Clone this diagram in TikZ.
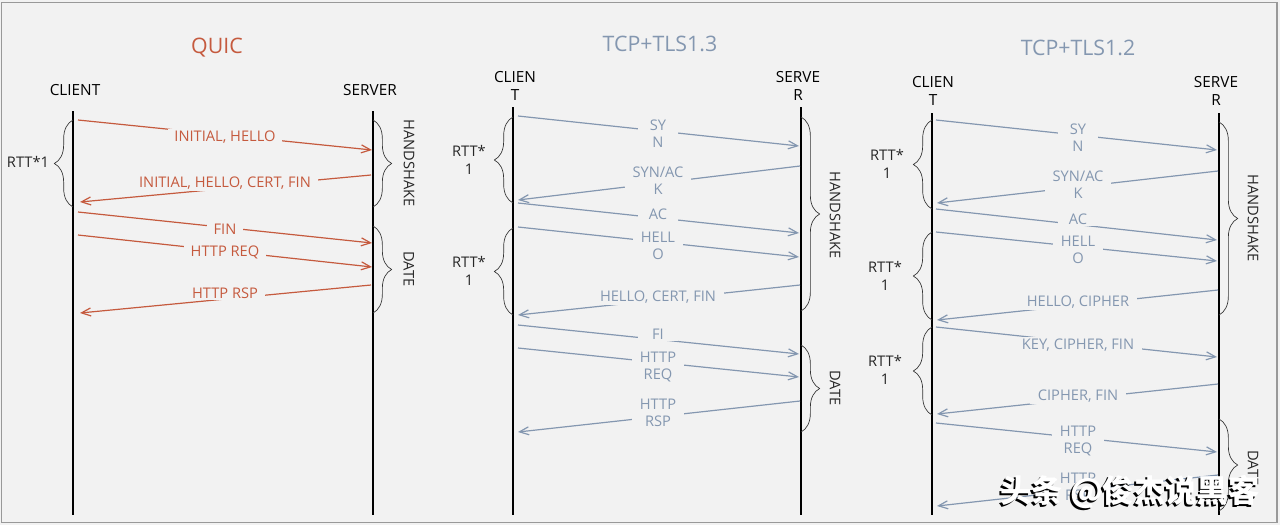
\documentclass[tikz,border=0pt]{standalone}
\usepackage{fontspec}
\setmainfont{Open Sans}
\newfontfamily\cjk{Noto Sans CJK SC}
\usetikzlibrary{arrows.meta, decorations.pathreplacing}
\definecolor{quicred}{HTML}{C55A3E}
\definecolor{tlsblue}{HTML}{8497B0}
\definecolor{paper}{HTML}{F2F2F2}

\begin{document}
\begin{tikzpicture}[x=0.75pt, y=-0.75pt,
	headtxt/.style={font=\fontsize{16}{18}\selectfont},
	actor/.style={align=center, font=\fontsize{11.5}{14}\selectfont},
	lifeline/.style={line width=1.1pt},
	qmsg/.style={quicred, line width=0.9pt, -{Straight Barb[length=7pt, width=6pt]}},
	tmsg/.style={tlsblue, line width=0.9pt, -{Straight Barb[length=7pt, width=6pt]}},
	qlab/.style={quicred, fill=paper, inner xsep=5pt, inner ysep=1pt, font=\fontsize{11}{12.8}\selectfont},
	tlab/.style={tlsblue, fill=paper, align=center, inner xsep=6pt, inner ysep=1pt, minimum width=30pt, font=\fontsize{11}{12.8}\selectfont},
	curly/.style={decorate, decoration={brace, amplitude=14pt}, line width=0.5pt, black!80},
	rtt/.style={align=center, black!85, font=\fontsize{11}{13.5}\selectfont},
	phase/.style={rotate=-90, black!85, font=\fontsize{11}{13}\selectfont},
	wmtext/.style={font=\cjk\bfseries\fontsize{23.5}{26}\selectfont},
]
	\useasboundingbox (0,0) rectangle (1280,525);
	\fill[paper] (0,0) rectangle (1280,525);
	\draw[black!40, line width=1pt] (1.5,2.5) rectangle (1277,522.5);

	% QUIC
	\node (quic) at (217,48) [headtxt, quicred] {QUIC};
	\node (qcl) at (75,90) [actor] {CLIENT};
	\node (qsv) at (370,90) [actor] {SERVER};
	\coordinate (qct) at (73,111);
	\coordinate (qcb) at (73,515);
	\coordinate (qst) at (373,111);
	\coordinate (qsb) at (373,515);
	\draw[lifeline] (qct) -- (qcb);
	\draw[lifeline] (qst) -- (qsb);

	\coordinate (q1s) at (78,120);  \coordinate (q1e) at (372,150);
	\coordinate (q2s) at (371,175); \coordinate (q2e) at (80,202);
	\coordinate (q3s) at (78,212);  \coordinate (q3e) at (372,243);
	\coordinate (q4s) at (78,235);  \coordinate (q4e) at (372,267);
	\coordinate (q5s) at (371,285); \coordinate (q5e) at (80,313);
	\draw[qmsg] (q1s) -- (q1e);
	\draw[qmsg] (q2s) -- (q2e);
	\draw[qmsg] (q3s) -- (q3e);
	\draw[qmsg] (q4s) -- (q4e);
	\draw[qmsg] (q5s) -- (q5e);
	\node (ql1) at (225,137) [qlab] {INITIAL, HELLO};
	\node (ql2) at (225,183) [qlab] {INITIAL, HELLO, CERT, FIN};
	\node (ql3) at (225,229) [qlab] {FIN};
	\node (ql4) at (225,252) [qlab] {HTTP REQ};
	\node (ql5) at (225,293) [qlab] {HTTP RSP};

	\coordinate (qb1a) at (73,207); \coordinate (qb1b) at (73,120);
	\draw[curly] (qb1a) -- (qb1b);
	\node (qrtt) at (28,162) [rtt] {RTT*1};
	\coordinate (qb2a) at (373,120); \coordinate (qb2b) at (373,207);
	\coordinate (qb3a) at (373,226); \coordinate (qb3b) at (373,313);
	\draw[curly] (qb2a) -- (qb2b);
	\draw[curly] (qb3a) -- (qb3b);
	\node (qhs) at (409,163) [phase] {HANDSHAKE};
	\node (qdt) at (409,269) [phase] {DATE};

	% TCP+TLS1.3
	\node (tls13) at (660,44) [headtxt, tlsblue] {TCP+TLS1.3};
	\node (tcl) at (515,86) [actor] {CLIEN\\T};
	\node (tsv) at (798,86) [actor] {SERVE\\R};
	\coordinate (tct) at (513,107);
	\coordinate (tcb) at (513,515);
	\coordinate (tst) at (801,107);
	\coordinate (tsb) at (801,515);
	\draw[lifeline] (tct) -- (tcb);
	\draw[lifeline] (tst) -- (tsb);

	\coordinate (t1s) at (518,116); \coordinate (t1e) at (799,146);
	\coordinate (t2s) at (800,166); \coordinate (t2e) at (518,200);
	\coordinate (t3s) at (518,203); \coordinate (t3e) at (799,233);
	\coordinate (t4s) at (518,227); \coordinate (t4e) at (799,257);
	\coordinate (t5s) at (800,285); \coordinate (t5e) at (518,315);
	\coordinate (t6s) at (518,325); \coordinate (t6e) at (799,354);
	\coordinate (t7s) at (518,348); \coordinate (t7e) at (799,377);
	\coordinate (t8s) at (800,401); \coordinate (t8e) at (518,432);
	\draw[tmsg] (t1s) -- (t1e);
	\draw[tmsg] (t2s) -- (t2e);
	\draw[tmsg] (t3s) -- (t3e);
	\draw[tmsg] (t4s) -- (t4e);
	\draw[tmsg] (t5s) -- (t5e);
	\draw[tmsg] (t6s) -- (t6e);
	\draw[tmsg] (t7s) -- (t7e);
	\draw[tmsg] (t8s) -- (t8e);
	\node (tl1) at (658,134) [tlab] {SY\\N};
	\node (tl2) at (658,181) [tlab] {SYN/AC\\K};
	\node (tl3) at (658,214) [tlab] {AC};
	\node (tl4) at (658,246) [tlab] {HELL\\O};
	\node (tl5) at (658,297) [tlab] {HELLO, CERT, FIN};
	\node (tl6) at (658,334) [tlab] {FI};
	\node (tl7) at (658,367) [tlab] {HTTP\\REQ};
	\node (tl8) at (658,413) [tlab] {HTTP\\RSP};

	\coordinate (tb1a) at (513,203); \coordinate (tb1b) at (513,117);
	\coordinate (tb2a) at (513,315); \coordinate (tb2b) at (513,228);
	\draw[curly] (tb1a) -- (tb1b);
	\draw[curly] (tb2a) -- (tb2b);
	\node (trtt1) at (469,160) [rtt] {RTT*\\1};
	\node (trtt2) at (469,271) [rtt] {RTT*\\1};
	\coordinate (tb3a) at (801,117); \coordinate (tb3b) at (801,311);
	\coordinate (tb4a) at (801,345); \coordinate (tb4b) at (801,432);
	\draw[curly] (tb3a) -- (tb3b);
	\draw[curly] (tb4a) -- (tb4b);
	\node (ths) at (835,215) [phase] {HANDSHAKE};
	\node (tdt) at (835,388) [phase] {DATE};

	% TCP+TLS1.2
	\node (tls12) at (1078,48) [headtxt, tlsblue] {TCP+TLS1.2};
	\node (ucl) at (933,91) [actor] {CLIEN\\T};
	\node (usv) at (1216,91) [actor] {SERVE\\R};
	\coordinate (uct) at (932,113);
	\coordinate (ucb) at (932,515);
	\coordinate (ust) at (1219,113);
	\coordinate (usb) at (1219,515);
	\draw[lifeline] (uct) -- (ucb);
	\draw[lifeline] (ust) -- (usb);

	\coordinate (u1s) at (936,120);  \coordinate (u1e) at (1217,150);
	\coordinate (u2s) at (1218,171); \coordinate (u2e) at (937,203);
	\coordinate (u3s) at (936,209);  \coordinate (u3e) at (1217,240);
	\coordinate (u4s) at (936,232);  \coordinate (u4e) at (1217,261);
	\coordinate (u5s) at (1218,290); \coordinate (u5e) at (937,320);
	\coordinate (u6s) at (936,327);  \coordinate (u6e) at (1217,357);
	\coordinate (u7s) at (1218,384); \coordinate (u7e) at (937,414);
	\coordinate (u8s) at (936,423);  \coordinate (u8e) at (1217,452);
	\coordinate (u9s) at (1218,475); \coordinate (u9e) at (937,506);
	\draw[tmsg] (u1s) -- (u1e);
	\draw[tmsg] (u2s) -- (u2e);
	\draw[tmsg] (u3s) -- (u3e);
	\draw[tmsg] (u4s) -- (u4e);
	\draw[tmsg] (u5s) -- (u5e);
	\draw[tmsg] (u6s) -- (u6e);
	\draw[tmsg] (u7s) -- (u7e);
	\draw[tmsg] (u8s) -- (u8e);
	\draw[tmsg] (u9s) -- (u9e);
	\node (ul1) at (1078,138) [tlab] {SY\\N};
	\node (ul2) at (1078,185) [tlab] {SYN/AC\\K};
	\node (ul3) at (1078,219) [tlab] {AC};
	\node (ul4) at (1078,250) [tlab] {HELL\\O};
	\node (ul5) at (1078,302) [tlab] {HELLO, CIPHER};
	\node (ul6) at (1078,345) [tlab] {KEY, CIPHER, FIN};
	\node (ul7) at (1078,396) [tlab] {CIPHER, FIN};
	\node (ul8) at (1078,441) [tlab] {HTTP\\REQ};
	\node (ul9) at (1078,487) [tlab] {HTTP\\RSP};

	\coordinate (ub1a) at (932,209); \coordinate (ub1b) at (932,120);
	\coordinate (ub2a) at (932,320); \coordinate (ub2b) at (932,232);
	\coordinate (ub3a) at (932,415); \coordinate (ub3b) at (932,327);
	\draw[curly] (ub1a) -- (ub1b);
	\draw[curly] (ub2a) -- (ub2b);
	\draw[curly] (ub3a) -- (ub3b);
	\node (urtt1) at (887,164) [rtt] {RTT*\\1};
	\node (urtt2) at (885,276) [rtt] {RTT*\\1};
	\node (urtt3) at (885,370) [rtt] {RTT*\\1};
	\coordinate (ub4a) at (1219,122); \coordinate (ub4b) at (1219,315);
	\coordinate (ub5a) at (1219,419); \coordinate (ub5b) at (1219,511);
	\draw[curly] (ub4a) -- (ub4b);
	\draw[curly] (ub5a) -- (ub5b);
	\node (uhs) at (1253,218) [phase] {HANDSHAKE};
	\node (udt) at (1253,468) [phase] {DATE};

	% watermark
	\node (wmk) at (1128,494) [wmtext, black] {头条 @俊杰说黑客};
	\node (wm) at (1130,492) [wmtext, white] {头条 @俊杰说黑客};
\end{tikzpicture}
\end{document}
